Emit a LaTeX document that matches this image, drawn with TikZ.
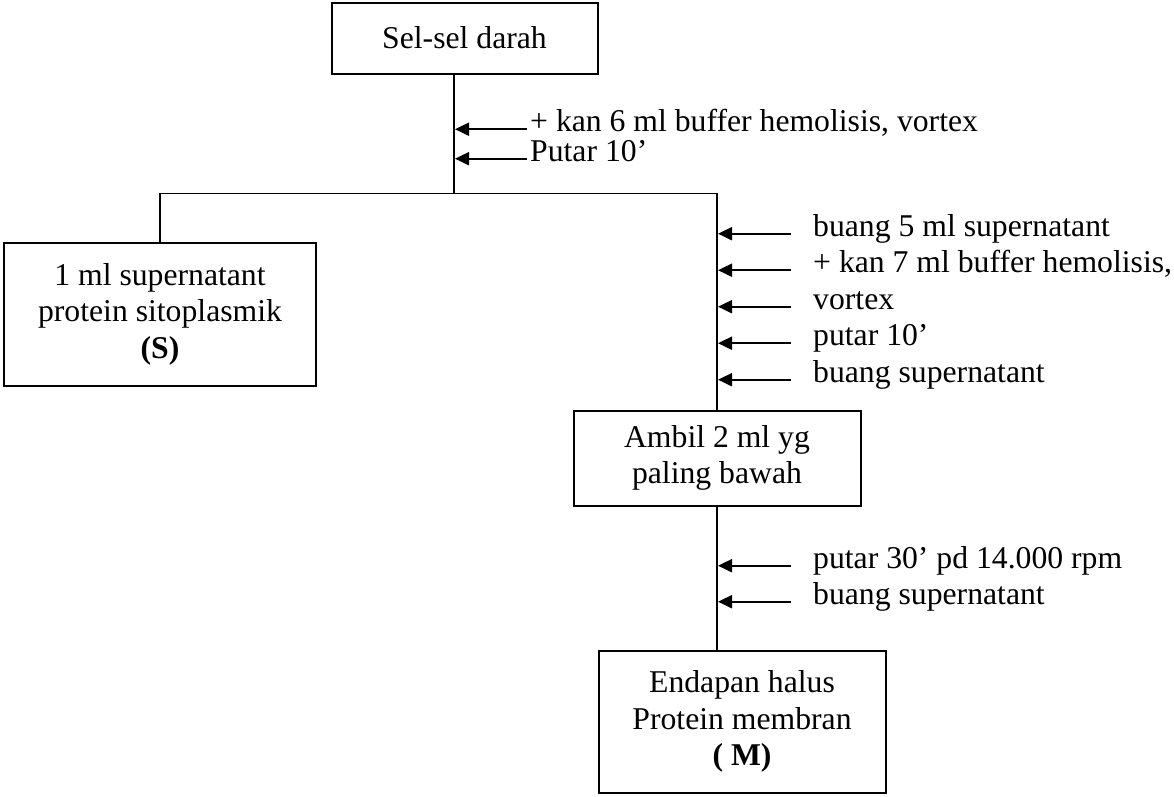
\documentclass[tikz,border=0pt]{standalone}
\usepackage{fontspec}
\setmainfont{Liberation Serif}
\usetikzlibrary{arrows.meta}
\begin{document}
\begin{tikzpicture}[x=1pt,y=-1pt,
  txt/.style={font=\fontsize{31.7}{36.5}\selectfont},
  box/.style={draw, line width=2pt, inner sep=0pt, align=center, txt},
  conn/.style={line width=1.7pt},
  arr/.style={line width=2pt, -{Triangle[length=14pt,width=13pt]}},
  lbl/.style={anchor=base west, inner sep=0pt, txt}]
\useasboundingbox (0,0) rectangle (1174,796);

% boxes
\node[box, minimum width=266pt, minimum height=71pt] (top) at (464.5,38) {Sel-sel darah};
\node[box, minimum width=312pt, minimum height=143pt] (left) at (160,314)
  {1 ml supernatant\\protein sitoplasmik\\\textbf{(S)}};
\node[box, minimum width=287pt, minimum height=95pt] (ambil) at (717,458)
  {Ambil 2 ml yg\\paling bawah};
\node[box, minimum width=287pt, minimum height=142pt] (endapan) at (742,721.5)
  {Endapan halus\\Protein membran\\\textbf{( M)}};

% tree connectors
\coordinate (jt) at (454,193.5);
\draw[conn] (top.south -| jt) -- (jt);
\draw[conn] (left.north) -- (left.north |- jt) -- (ambil.north |- jt) -- (ambil.north);
\draw[conn] (ambil.south) -- (ambil.south |- endapan.north);

% top step labels
\node[lbl] (t1) at (530,131.5) {+ kan 6 ml buffer hemolisis, vortex};
\node[lbl] (t2) at (530,161) {Putar 10’};
\foreach \n in {t1,t2}
  \draw[arr] ([xshift=-3pt]\n.mid west) -- ([xshift=1pt]\n.mid west -| jt);

% right step labels
\node[lbl] (r1) at (813,236) {buang 5 ml supernatant};
\node[lbl] (r2) at (813,272.5) {+ kan 7 ml buffer hemolisis,};
\node[lbl] (r3) at (813,309) {vortex};
\node[lbl] (r4) at (813,345.5) {putar 10’};
\node[lbl] (r5) at (813,382) {buang supernatant};
\foreach \n in {r1,r2,r3,r4,r5}
  \draw[arr] ([xshift=-22pt]\n.mid west) -- ([xshift=1pt]\n.mid west -| ambil.north);

% bottom step labels
\node[lbl] (b1) at (813,568) {putar 30’ pd 14.000 rpm};
\node[lbl] (b2) at (813,604) {buang supernatant};
\foreach \n in {b1,b2}
  \draw[arr] ([xshift=-22pt]\n.mid west) -- ([xshift=1pt]\n.mid west -| ambil.south);
\end{tikzpicture}
\end{document}
